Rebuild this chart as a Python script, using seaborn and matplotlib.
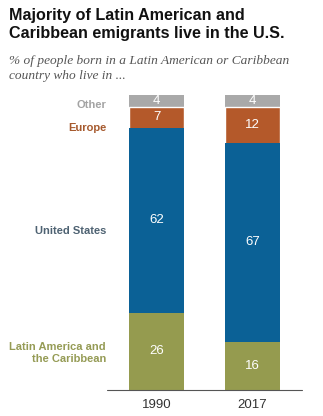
import matplotlib
matplotlib.use("Agg")
import matplotlib.pyplot as plt
import matplotlib.transforms as mtransforms
import seaborn as sns
import pandas as pd
import numpy as np

years = ["1990", "2017"]
categories = ["Latin America and\nthe Caribbean", "United States", "Europe", "Other"]
latam = [26, 16]
usa = [62, 67]
europe = [7, 12]
other = [4, 4]

colors = {"latam": "#959B4F", "usa": "#0B6196", "europe": "#B4592A", "other": "#A9A9A9"}
label_colors = ["#959B55", "#4E6272", "#A65A2E", "#A3A3A3"]
label_y = [12.4, 53.4, 88.0, 95.6]

sns.set_theme(style="white")
plt.rcParams['font.family'] = ['Liberation Sans', 'DejaVu Sans']

fig = plt.figure(figsize=(3.23, 4.16), dpi=100)
W, H = 323, 416
ax = fig.add_axes([107 / W, (H - 390) / H, 195 / W, 295 / H])

series = [latam, usa, europe, other]
cum = np.cumsum(np.array(series), axis=0)
df = pd.DataFrame({"year": years})
order_draw = [(3, "other"), (2, "europe"), (1, "usa"), (0, "latam")]
for idx, key in order_draw:
    df["v"] = cum[idx]
    kw = dict(edgecolor="none", linewidth=0)
    if key == "europe":
        kw = dict(edgecolor="white", linewidth=1.0)
    sns.barplot(data=df, x="year", y="v", color=colors[key], width=0.573,
                saturation=1, ax=ax, **kw)

ax.set_xlim(-0.516, 1.516)
ax.set_ylim(0, 99)
ax.axhline(0, color="#555555", linewidth=0.8, zorder=10, clip_on=False)
for s in ax.spines.values():
    s.set_visible(False)
ax.set_yticks([])
ax.set_xlabel("")
ax.set_ylabel("")
ax.tick_params(axis="x", length=0, pad=6.5, labelsize=9.5, colors="#333333")

# value labels
for i in range(len(years)):
    bottoms = np.concatenate([[0], cum[:-1, i]])
    for j in range(len(series)):
        v = series[j][i]
        ax.text(i, bottoms[j] + v / 2, str(v), ha="center", va="center",
                color="white", fontsize=9.5, zorder=11)

# category labels
trans = mtransforms.blended_transform_factory(ax.transAxes, ax.transData)
for cat, c, y in zip(categories, label_colors, label_y):
    ax.text(-0.005, y, cat, transform=trans, ha="right", va="center",
            color=c, fontsize=8, fontweight="bold", linespacing=1.35)

fig.text(9 / W, 1 - 8 / H, "Majority of Latin American and\nCaribbean emigrants live in the U.S.",
         ha="left", va="top", fontsize=11.6, fontweight="bold", color="#111111",
         linespacing=1.25)
fig.text(9 / W, 1 - 55 / H, "% of people born in a Latin American or Caribbean\ncountry who live in ...",
         ha="left", va="top", fontsize=9.6, style="italic", color="#555555",
         family=["Liberation Serif", "DejaVu Serif"], linespacing=1.3)

fig.savefig("out.png", dpi=100)
